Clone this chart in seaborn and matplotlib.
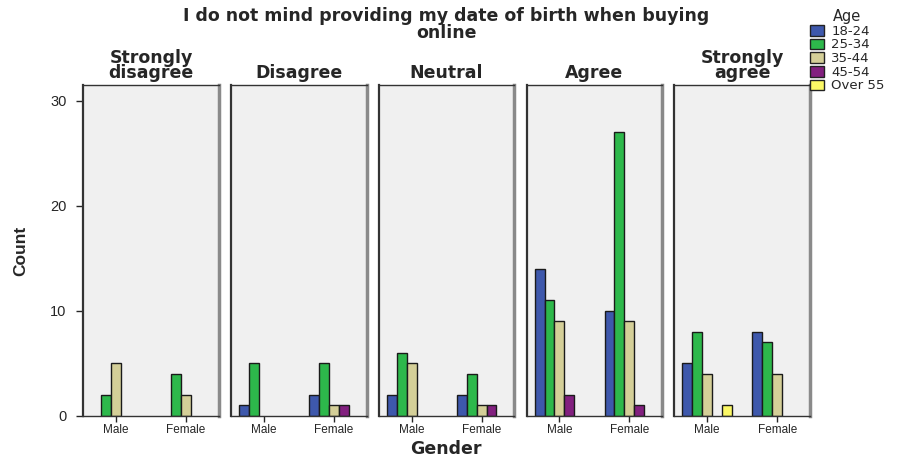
import pandas as pd
import matplotlib
matplotlib.use('Agg')
import matplotlib.pyplot as plt
from matplotlib.patches import Patch
import seaborn as sns

# answers to the statement, gender and age groups
opinions = ['Strongly disagree', 'Disagree', 'Neutral', 'Agree', 'Strongly agree']
panel_titles = ['Strongly\ndisagree', 'Disagree', 'Neutral', 'Agree', 'Strongly\nagree']
genders = ['Male', 'Female']
ages = ['18-24', '25-34', '35-44', '45-54', 'Over 55']

# counts per age group, one list per opinion and gender (order of ages above)
strongly_disagree_male = [0, 2, 5, 0, 0]
strongly_disagree_female = [0, 4, 2, 0, 0]
disagree_male = [1, 5, 0, 0, 0]
disagree_female = [2, 5, 1, 1, 0]
neutral_male = [2, 6, 5, 0, 0]
neutral_female = [2, 4, 1, 1, 0]
agree_male = [14, 11, 9, 2, 0]
agree_female = [10, 27, 9, 1, 0]
strongly_agree_male = [5, 8, 4, 0, 1]
strongly_agree_female = [8, 7, 4, 0, 0]

age_colors = ['#3e58ac', '#2db84b', '#d4cf98', '#82207f', '#fbf866']

counts = {
    'Strongly disagree': (strongly_disagree_male, strongly_disagree_female),
    'Disagree': (disagree_male, disagree_female),
    'Neutral': (neutral_male, neutral_female),
    'Agree': (agree_male, agree_female),
    'Strongly agree': (strongly_agree_male, strongly_agree_female),
}

rows = []
for op in opinions:
    for g, vals in zip(genders, counts[op]):
        for a, v in zip(ages, vals):
            rows.append({'Opinion': op, 'Gender': g, 'Age': a, 'Count': v})
df = pd.DataFrame(rows)
# empty cells are not drawn (SPSS leaves a gap)
df = df[df['Count'] > 0]

sns.set_style('white')
plt.rcParams['font.family'] = ['Liberation Sans', 'DejaVu Sans']
wide = ['DejaVu Sans']  # the headings in the original are drawn wide

fig, axes = plt.subplots(1, 5, figsize=(9.05, 4.59), dpi=100, sharey=True)
fig.subplots_adjust(left=0.092, right=0.895, top=0.815, bottom=0.094, wspace=0.09)

palette = dict(zip(ages, age_colors))
for i, (ax, op, title) in enumerate(zip(axes, opinions, panel_titles)):
    sub = df[df['Opinion'] == op]
    sns.barplot(data=sub, x='Gender', y='Count', hue='Age', order=genders,
                hue_order=ages, palette=palette, width=0.71, dodge=True,
                edgecolor='#1a1a1a', linewidth=1.0, errorbar=None, ax=ax,
                legend=False, saturation=1)
    ax.set_facecolor('#f0f0f0')
    ax.set_xlim(-0.47, 1.47)
    ax.set_ylim(0, 31.5)
    ax.set_yticks([0, 10, 20, 30])
    ax.set_xlabel('')
    ax.set_ylabel('')
    ax.set_title(title, fontsize=12.5, fontweight='bold', family=wide, pad=5, linespacing=0.8)
    for side in ['top', 'left', 'bottom']:
        ax.spines[side].set_color('#333333')
        ax.spines[side].set_linewidth(1.0)
    ax.spines['right'].set_color('#8a8a8a')
    ax.spines['right'].set_linewidth(2.5)
    ax.spines['left'].set_linewidth(1.6)
    ax.tick_params(axis='x', bottom=True, length=4, width=1, labelsize=8.5, pad=2)
    if i == 0:
        ax.tick_params(axis='y', left=True, length=5, width=1, labelsize=10.5, pad=7)
    else:
        ax.tick_params(axis='y', left=False)

axes[0].set_ylabel('Count', fontsize=12.5, fontweight='bold', labelpad=16)

fig.suptitle('I do not mind providing my date of birth when buying\nonline',
             x=0.493, y=0.985, fontsize=12.5, fontweight='bold', family=wide, linespacing=0.95)
fig.text(0.493, 0.003, 'Gender', ha='center', va='bottom', fontsize=12.5,
         fontweight='bold', family=wide)

handles = [Patch(facecolor=c, edgecolor='#222222', label=a) for a, c in zip(ages, age_colors)]
leg = fig.legend(handles=handles, title='Age', loc='upper left', bbox_to_anchor=(0.895, 0.98),
                 frameon=False, prop={'family': wide, 'size': 9.5}, title_fontsize=10.5,
                 handlelength=1.1, handleheight=0.85, handletextpad=0.5, labelspacing=0.05,
                 borderaxespad=0, borderpad=0)
leg.get_title().set_family(wide)

fig.savefig('out.png', dpi=100)
